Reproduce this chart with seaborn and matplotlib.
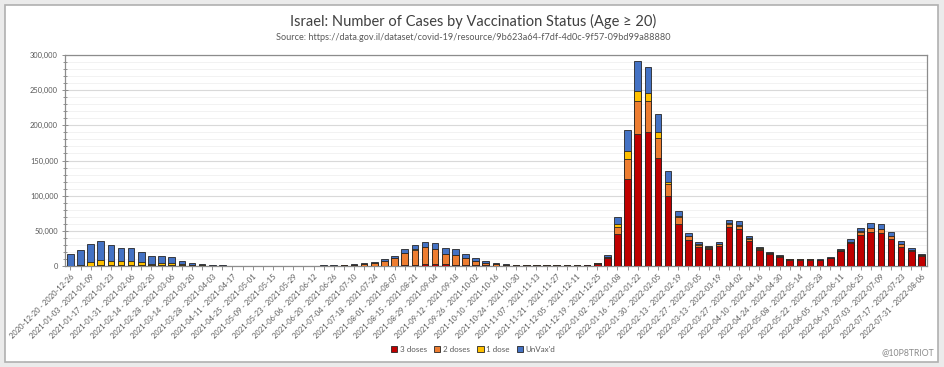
import matplotlib
matplotlib.use("Agg")
import matplotlib.pyplot as plt
import matplotlib.ticker as mticker
from matplotlib.patches import Rectangle, Patch
import numpy as np
import pandas as pd
import seaborn as sns

# ---- data (cases, in thousands) ----
start_dates = pd.date_range("2020-12-20", "2022-07-31", freq="7D")
week_labels = [f"{d:%Y-%m-%d} - {(d + pd.Timedelta(days=6)):%Y-%m-%d}" for d in start_dates]

doses3_k = [0, 0, 0, 0, 0, 0, 0, 0, 0, 0, 0, 0, 0, 0, 0,
            0, 0, 0, 0, 0, 0, 0, 0, 0, 0, 0, 0.05,
            0, 0.1, 0.1, 0.2, 0.3, 0.5, 0.8, 1.2, 2.4, 2.8, 2.5, 2.0, 1.5, 1.0, 0.8, 0.5, 0.4,
            0.3, 0.3, 0.3, 0.3, 0.4, 0.5, 0.6, 0.9, 3.0, 11,
            46, 123, 188, 190, 153, 100, 60, 37, 27.5, 24, 28.4, 55, 52, 35.6, 22.8, 17.5,
            13.2, 8.5, 8.5, 8.6, 8.2, 11, 21, 32, 44, 48.4, 47.4, 39, 27.5, 21.3, 14.2]
doses2_k = [0, 0, 0.3, 1.0, 1.5, 2.0, 2.0, 1.8, 1.5, 1.5, 1.8, 1.2, 1.0, 0.7, 0.4,
            0.4, 0.35, 0.3, 0.3, 0.25, 0.25, 0.25, 0.25, 0.25, 0.3, 0.4, 0.6,
            0.8, 1.6, 3.3, 4.5, 7.2, 10.7, 17.8, 22, 24.5, 21.5, 14, 13, 9.5, 6.1, 3.5, 1.8, 1.0,
            0.6, 0.5, 0.45, 0.45, 0.4, 0.5, 0.45, 0.5, 0.8, 1.5,
            10, 29, 47, 45, 29, 16, 9, 5, 3, 2, 2.3, 5, 5.5, 3.3, 2, 1,
            1.2, 0.8, 0.8, 0.7, 0.7, 0.8, 0.9, 2.5, 4.8, 5.2, 5.2, 3.7, 3.8, 1.5, 1.3]
dose1_k = [0.3, 1.2, 5.0, 7.0, 5.5, 4.5, 4.5, 3.2, 2.0, 2.3, 2.5, 1.0, 0.5, 0.2, 0.1,
           0.05, 0.05, 0.05, 0.05, 0.05, 0.05, 0.05, 0.05, 0.05, 0.05, 0.05, 0.05,
           0.1, 0.1, 0.1, 0.1, 0.2, 0.3, 0.4, 0.5, 0.5, 0.5, 0.4, 0.4, 0.3, 0.2, 0.2, 0.1, 0.1,
           0.05, 0.05, 0.05, 0.05, 0.05, 0.05, 0.05, 0.05, 0.1, 0.3,
           4, 11, 14, 11, 9, 4, 1.5, 0.8, 0.5, 0.4, 0.4, 0.8, 0.8, 0.5, 0.3, 0.2,
           0.2, 0.1, 0.1, 0.1, 0.1, 0.1, 0.2, 0.3, 0.4, 0.5, 0.5, 0.4, 0.3, 0.2, 0.2]
unvax_k = [17.2, 22.0, 26.4, 27.5, 22.4, 19.5, 19.5, 15.4, 11.2, 10.4, 8.0, 5.4, 2.8, 1.5, 0.7,
           0.35, 0.3, 0.25, 0.25, 0.2, 0.2, 0.2, 0.2, 0.2, 0.25, 0.35, 0.55,
           1.0, 1.5, 1.2, 0.9, 1.8, 2.7, 4.7, 6.3, 6.6, 7.7, 8.1, 8.3, 6.2, 4.1, 2.6, 1.4, 0.9,
           0.55, 0.45, 0.4, 0.4, 0.4, 0.5, 0.45, 0.55, 0.8, 2.2,
           10, 30, 43, 37, 25, 15, 7.5, 4.2, 3, 2.6, 2.9, 4.6, 5.2, 3.3, 2.4, 1.3,
           1.4, 1.0, 1.0, 1.0, 1.0, 1.3, 1.6, 3.2, 4.4, 6.6, 6.9, 5.9, 4.4, 2.6, 1.8]

series_names = ["3 doses", "2 doses", "1 dose", "UnVax'd"]
series_colors = ["#C00000", "#ED7D31", "#FFC000", "#4472C4"]

df = pd.DataFrame({
    "week": week_labels,
    "3 doses": np.array(doses3_k) * 1000,
    "2 doses": np.array(doses2_k) * 1000,
    "1 dose": np.array(dose1_k) * 1000,
    "UnVax'd": np.array(unvax_k) * 1000,
})
# cumulative tops for stacked drawing
cum = df[series_names].cumsum(axis=1)

W, H = 945, 367
fig = plt.figure(figsize=(W / 100, H / 100), dpi=100, facecolor="#ebebeb")
fig.patches.append(Rectangle((5 / W, 1 - 362 / H), (938 - 5) / W, (362 - 5) / H,
                             transform=fig.transFigure, facecolor="white",
                             edgecolor="#b0b0b0", linewidth=1.2, zorder=-10))

ax = fig.add_axes([65 / W, 1 - 266 / H, (927 - 65) / W, (266 - 55) / H])
ax.set_facecolor("white")

for name, color in reversed(list(zip(series_names, series_colors))):
    sns.barplot(x=df["week"], y=cum[name], order=week_labels, color=color,
                saturation=1, width=0.65, errorbar=None, ax=ax,
                edgecolor="#262626", linewidth=0.6, zorder=3)

ax.set_xlim(-0.53, len(week_labels) - 0.45)
ax.set_ylim(0, 300000)
ax.yaxis.set_major_locator(mticker.MultipleLocator(50000))
ax.yaxis.set_minor_locator(mticker.MultipleLocator(10000))
ax.yaxis.set_major_formatter(mticker.FuncFormatter(lambda v, p: f"{int(v):,}"))
ax.grid(axis="y", which="major", color="#d9d9d9", linewidth=0.8, zorder=0)
ax.grid(axis="y", which="minor", color="#f0f0f0", linewidth=0.6, zorder=0)
ax.set_axisbelow(True)
ax.set_xlabel("")
ax.set_ylabel("")

ax.set_xticks(range(len(week_labels)))
ax.set_xticklabels([lab if i % 2 == 0 else "" for i, lab in enumerate(week_labels)],
                   rotation=45, ha="right", rotation_mode="anchor",
                   fontsize=5.4, color="#595959", family="Lato")
for lab in ax.get_yticklabels():
    lab.set_fontsize(5.4)
    lab.set_color("#595959")
    lab.set_family("Lato")
ax.tick_params(axis="x", length=3, width=0.6, color="#7f7f7f", pad=2)
ax.tick_params(axis="y", which="major", length=4, width=0.6, color="#7f7f7f", direction="inout", pad=3)
ax.tick_params(axis="y", which="minor", length=2.5, width=0.6, color="#7f7f7f", direction="inout")
for s in ax.spines.values():
    s.set_color("#8c8c8c")
    s.set_linewidth(0.9)

fig.text(473 / W, 1 - 21 / H, "Israel: Number of Cases by Vaccination Status (Age \u2265 20)",
         ha="center", va="center", fontsize=10.5, color="#404040", family="Lato")
fig.text(473 / W, 1 - 38 / H,
         "Source: https://data.gov.il/dataset/covid-19/resource/9b623a64-f7df-4d0c-9f57-09bd99a88880",
         ha="center", va="center", fontsize=6.6, color="#595959", family="Lato")

handles = [Patch(facecolor=c, edgecolor="#262626", linewidth=0.6) for c in series_colors]
fig.legend(handles, series_names, loc="center", bbox_to_anchor=(473 / W, 1 - 349 / H),
           ncol=4, frameon=False, handlelength=0.8, handleheight=0.8,
           handletextpad=0.3, columnspacing=0.9, labelcolor="#595959",
           prop={"family": "Lato", "size": 5.8})

fig.text(934 / W, 1 - 353 / H, "@10P8TRIOT", ha="right", va="center",
         fontsize=6.3, color="#8c8c8c", family="Lato")

fig.savefig("out.png", dpi=100, facecolor=fig.get_facecolor())
